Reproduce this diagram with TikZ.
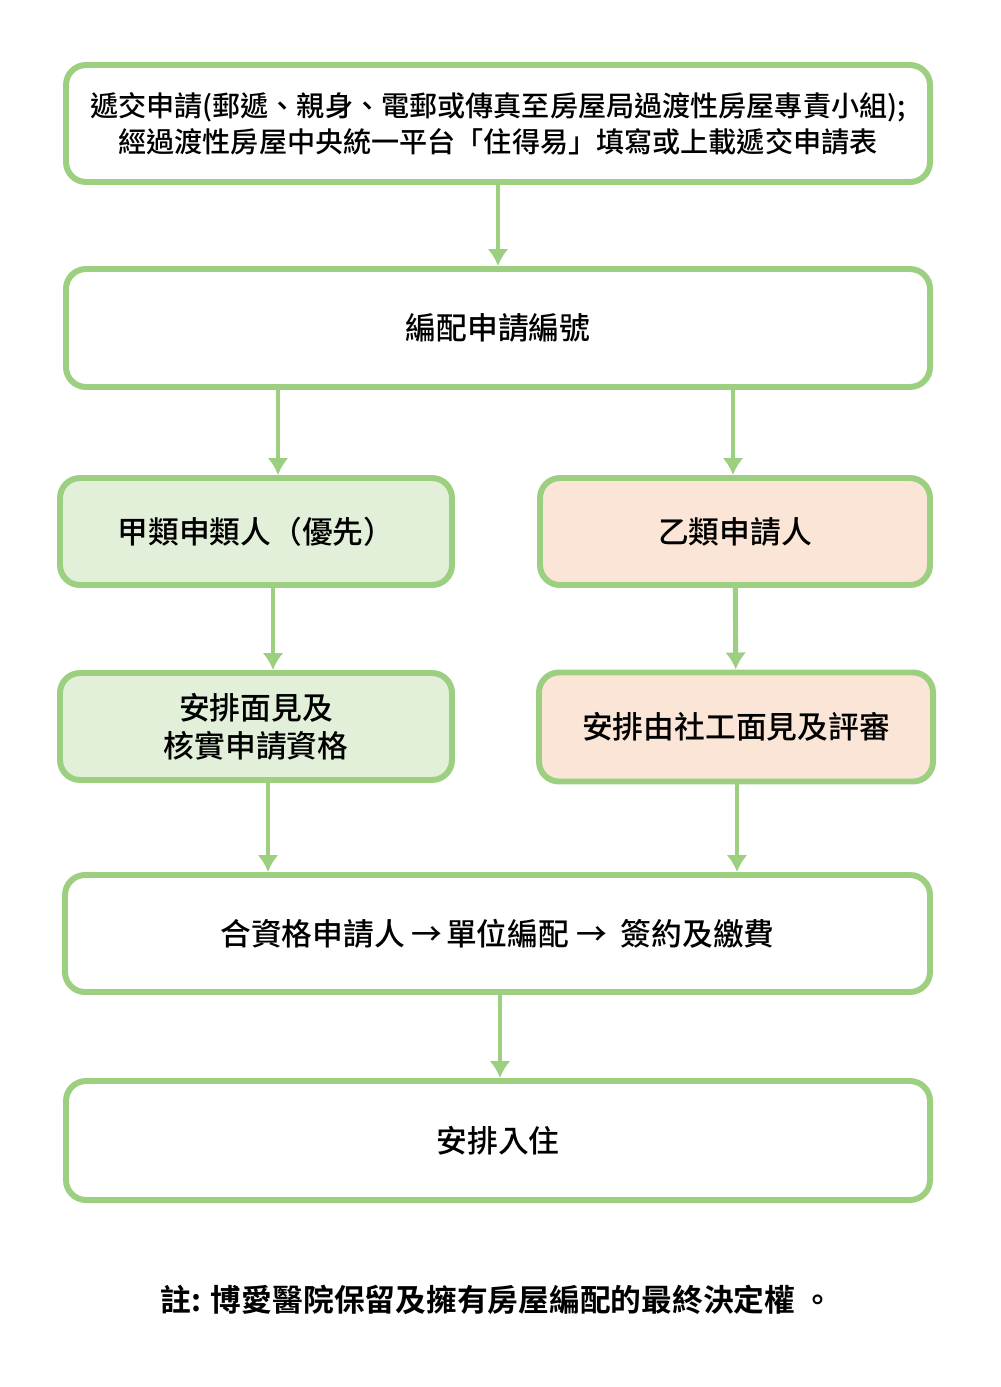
\documentclass[tikz,border=0pt]{standalone}
\usepackage{fontspec}
\newfontfamily\cjk{Noto Sans CJK TC}[UprightFont={* Medium},BoldFont={* Bold}]
\usepackage{tikz}
\usetikzlibrary{arrows.meta,positioning,calc}
\definecolor{edgegreen}{HTML}{9DCF80}
\definecolor{fillgreen}{HTML}{E2EFD9}
\definecolor{fillpeach}{HTML}{FBE5D6}
\tikzset{
    auto,
    flow/.style ={-{Latex[length=0.34cm,width=0.42cm]}, draw=edgegreen, line width=2.8pt},
    box/.style ={rectangle, rounded corners=0.4cm, draw=edgegreen, line width=3.4pt, fill=white,
                 align=center, font=\cjk\fontsize{17.5}{21.5}\selectfont, text=black},
    wide/.style ={box, minimum width=17.28cm, minimum height=2.34cm},
    half/.style ={box, minimum width=7.84cm, minimum height=2.14cm},
    green/.style ={half, fill=fillgreen},
    peach/.style ={half, fill=fillpeach},
    remark/.style ={font=\cjk\bfseries\fontsize{17.5}{21}\selectfont, text=black}
}
\begin{document}
\begin{tikzpicture}
    \useasboundingbox (0,0) rectangle (20,-27.74);
    \node[wide, font=\cjk\fontsize{16}{20.5}\selectfont] (apply) at (9.96,-2.47) {遞交申請(郵遞、親身、電郵或傳真至房屋局過渡性房屋專責小組);\\經過渡性房屋中央統一平台「住得易」填寫或上載遞交申請表};
     \node[wide, minimum height=2.36cm] (number) at (9.96,-6.56) {編配申請編號};
       \node[green] (typeA) at (5.12,-10.63) {甲類申類人（優先）};
       \node[peach, minimum width=7.8cm] (typeB) at (14.70,-10.63) {乙類申請人};
      \node[green] (meetA) at (5.12,-14.53) {安排面見及\\核實申請資格};
      \node[peach, minimum width=7.88cm, minimum height=2.18cm] (meetB) at (14.72,-14.54) {安排由社工面見及評審};
     \node[wide, minimum width=17.3cm] (alloc) at (9.95,-18.67) {合資格申請人\hspace{4pt}→\hspace{2pt}單位編配\hspace{4pt}→\hspace{8pt}簽約及繳費};
     \node[wide, minimum height=2.38cm] (movein) at (9.96,-22.81) {安排入住};
    \node[remark] (note) at (9.94,-26.0) {註: 博愛醫院保留及擁有房屋編配的最終決定權 。};

       \draw[flow] (apply) -- (number);
       \draw[flow] ([xshift=0.44cm]typeA.north |- number.south) -- ([xshift=0.44cm]typeA.north);
       \draw[flow] ([xshift=-0.04cm]typeB.north |- number.south) -- ([xshift=-0.04cm]typeB.north);
       \draw[flow] ([xshift=0.34cm]typeA.south) -- ([xshift=0.34cm]meetA.north);
       \draw[flow] (typeB) -- (meetB);
       \draw[flow] ([xshift=0.24cm]meetA.south) -- ([xshift=0.24cm]meetA.south |- alloc.north);
       \draw[flow] ([xshift=0.02cm]meetB.south) -- ([xshift=0.02cm]meetB.south |- alloc.north);
       \draw[flow] ([xshift=0.05cm]alloc.south) -- ([xshift=0.05cm]alloc.south |- movein.north);

\end{tikzpicture}
\end{document}
